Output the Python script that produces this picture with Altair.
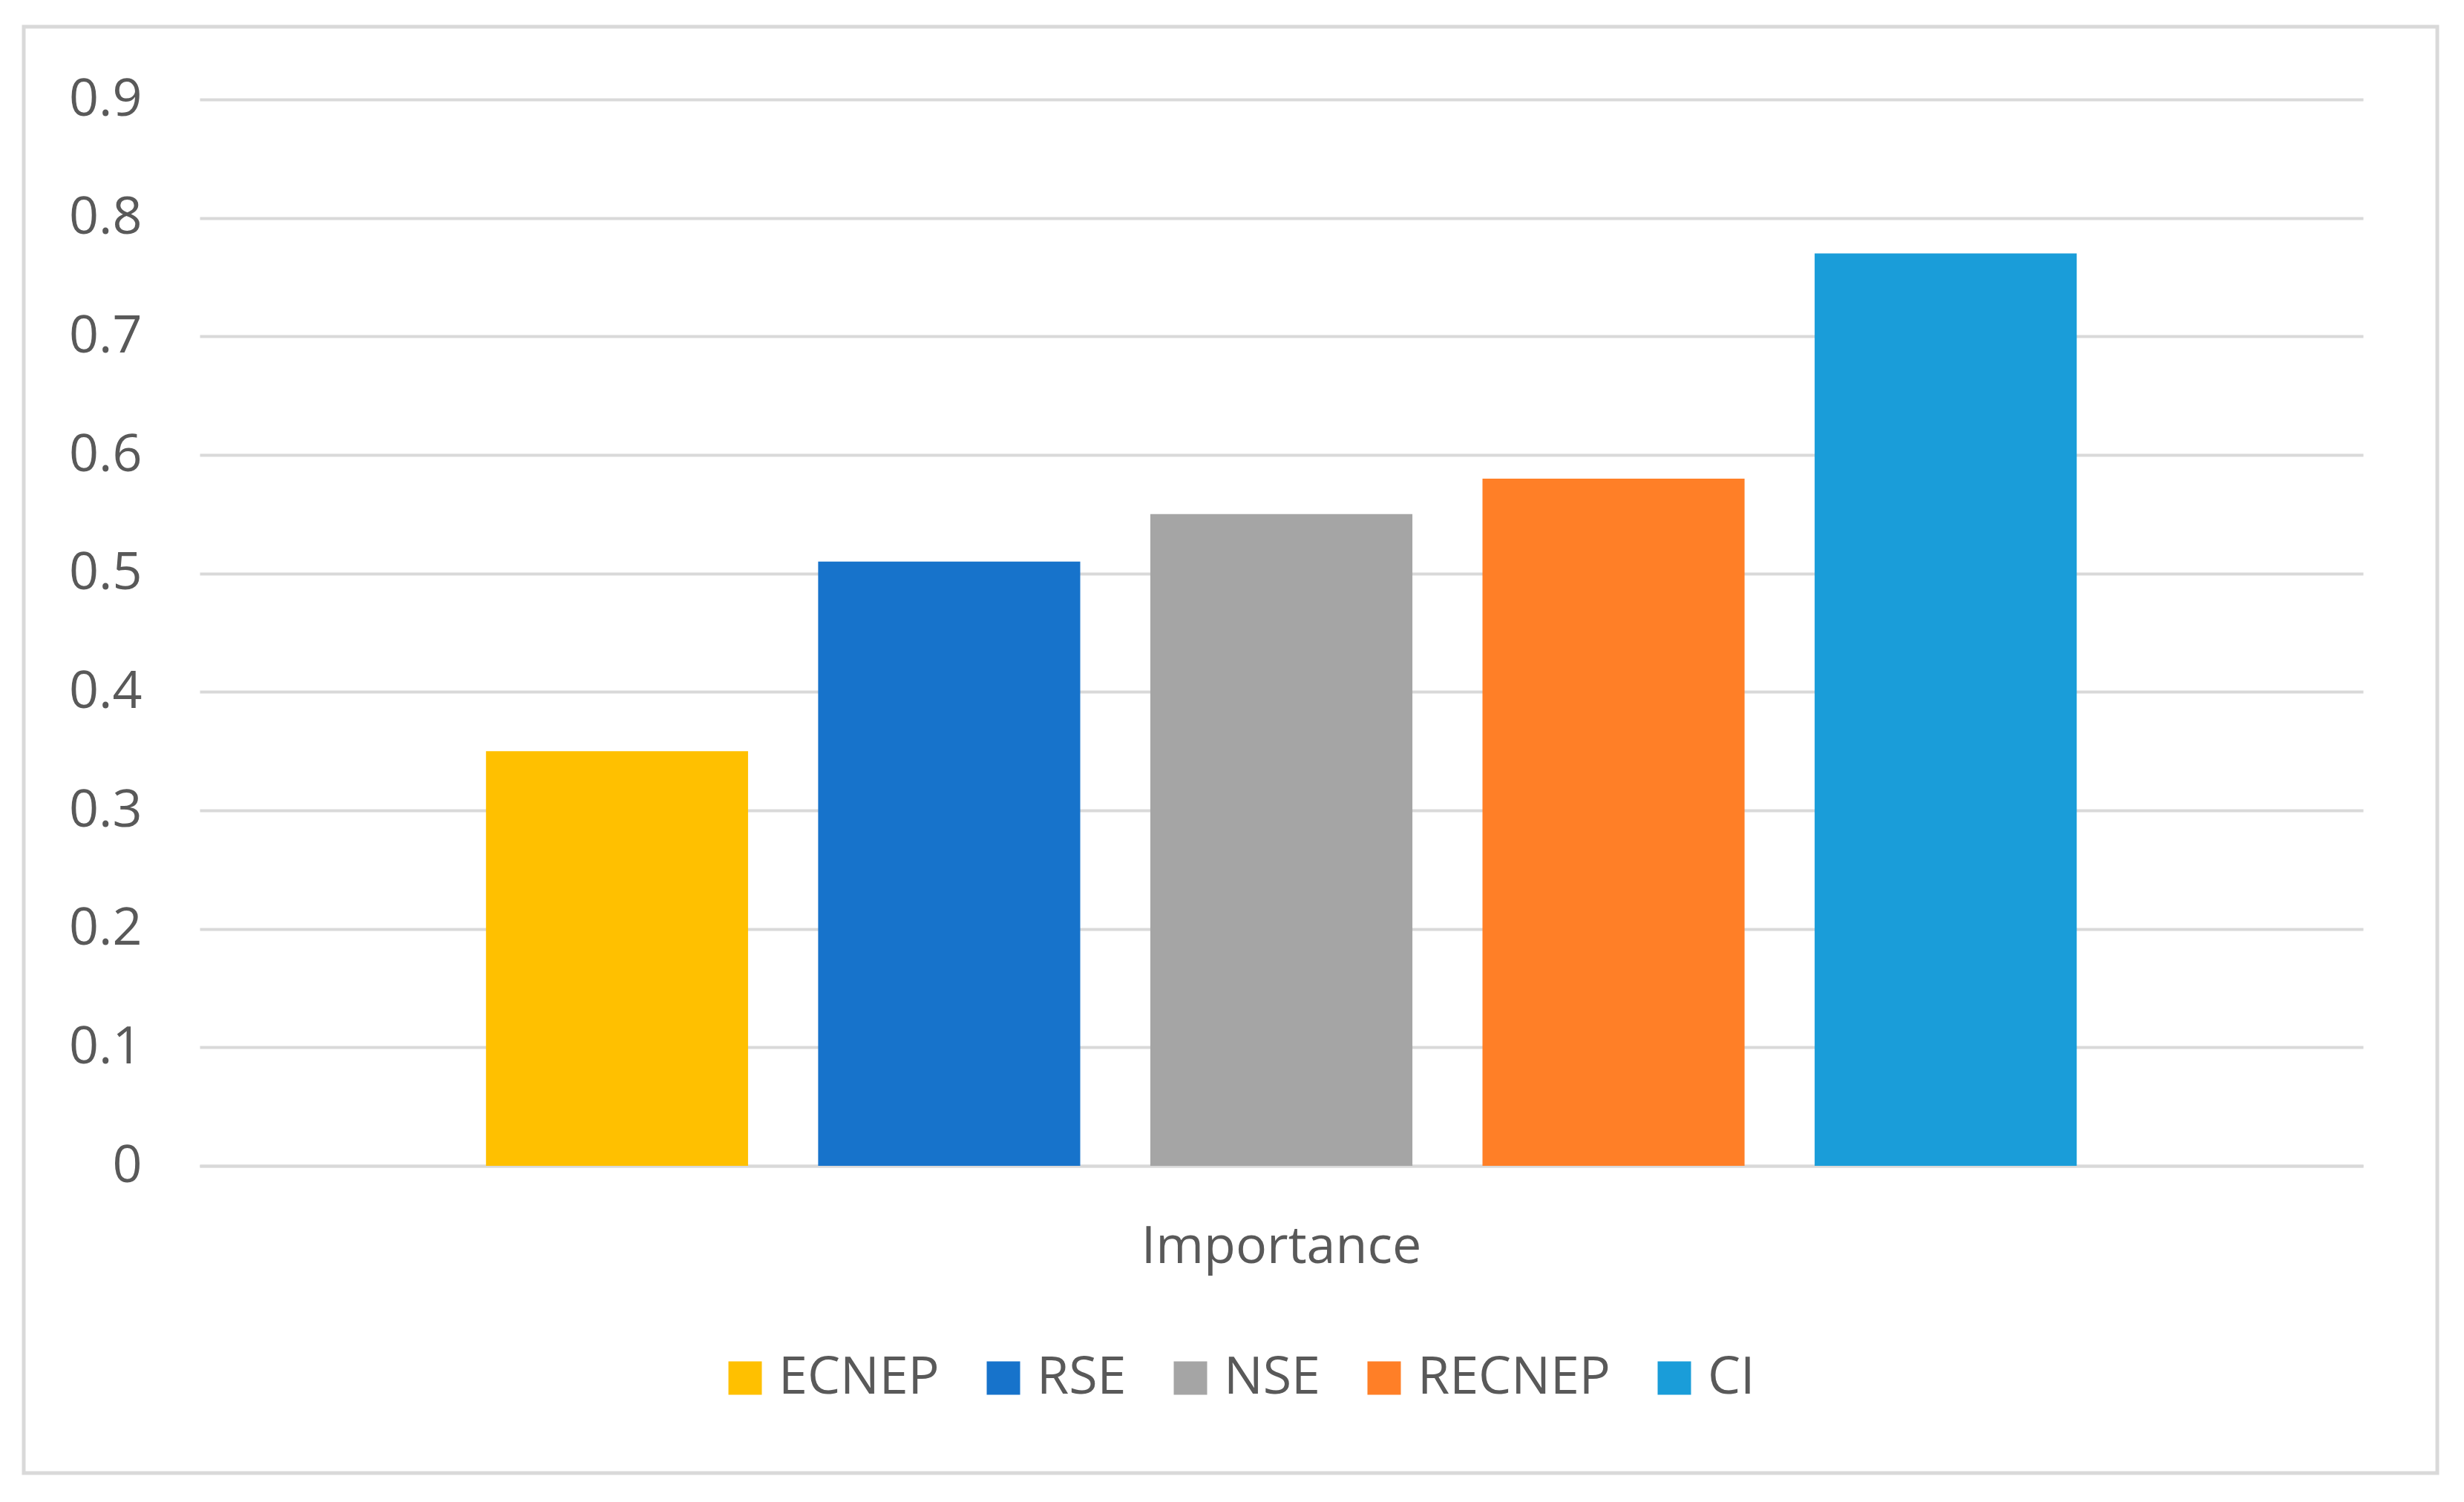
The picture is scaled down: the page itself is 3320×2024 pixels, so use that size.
import altair as alt
import pandas as pd

category = "Importance"
series = ["ECNEP", "RSE", "NSE", "RECNEP", "CI"]
values = [0.35, 0.51, 0.55, 0.58, 0.77]
colors = ["#FFC000", "#1773CB", "#A5A5A5", "#FF7F27", "#1A9DD9"]
y_ticks = [0, 0.1, 0.2, 0.3, 0.4, 0.5, 0.6, 0.7, 0.8, 0.9]

df = pd.DataFrame({"category": [category] * len(series), "series": series, "value": values})

FONT = "Open Sans"
TXT = "#595959"
GRID = "#D9D9D9"

bars = alt.Chart(df).mark_bar().encode(
    x=alt.X(
        "category:N",
        title=None,
        scale=alt.Scale(paddingInner=0, paddingOuter=0.18),
        axis=alt.Axis(
            labelAngle=0, labelFontSize=70, labelPadding=75, ticks=False, tickSize=0,
            domainColor=GRID, domainWidth=4, grid=False, labelColor=TXT, labelFont=FONT,
            labelLimit=1000,
        ),
    ),
    xOffset=alt.XOffset("series:N", sort=series, scale=alt.Scale(paddingInner=0.211, paddingOuter=0)),
    y=alt.Y(
        "value:Q",
        scale=alt.Scale(domain=[0, 0.9], nice=False),
        axis=alt.Axis(
            values=y_ticks, format="~g", title=None, domain=False, ticks=False, tickSize=0,
            gridColor=GRID, gridWidth=4, labelFontSize=70, labelPadding=78,
            labelColor=TXT, labelFont=FONT,
        ),
    ),
    color=alt.Color(
        "series:N",
        sort=series,
        scale=alt.Scale(domain=series, range=colors),
        legend=alt.Legend(
            title=None, orient="none", legendX=700, legendY=1688, direction="horizontal",
            columns=5, symbolType="square", symbolSize=2025, symbolStrokeWidth=0,
            labelFontSize=70, labelFont=FONT, labelColor=TXT, labelOffset=10,
            columnPadding=51, padding=0, labelLimit=600,
        ),
    ),
)

border = alt.Chart(pd.DataFrame({"b": [0]})).mark_rect(
    fill="transparent", stroke=GRID, strokeWidth=5
).encode(
    x=alt.value(-237), x2=alt.value(3015), y=alt.value(-98), y2=alt.value(1851)
)

chart = alt.layer(border, bars).properties(
    width=2915, height=1437,
    padding={"left": 21, "top": 25, "right": 0, "bottom": 0},
).configure_view(strokeWidth=0)

chart.save("out.html", embed_options={"renderer": "svg", "actions": False})
